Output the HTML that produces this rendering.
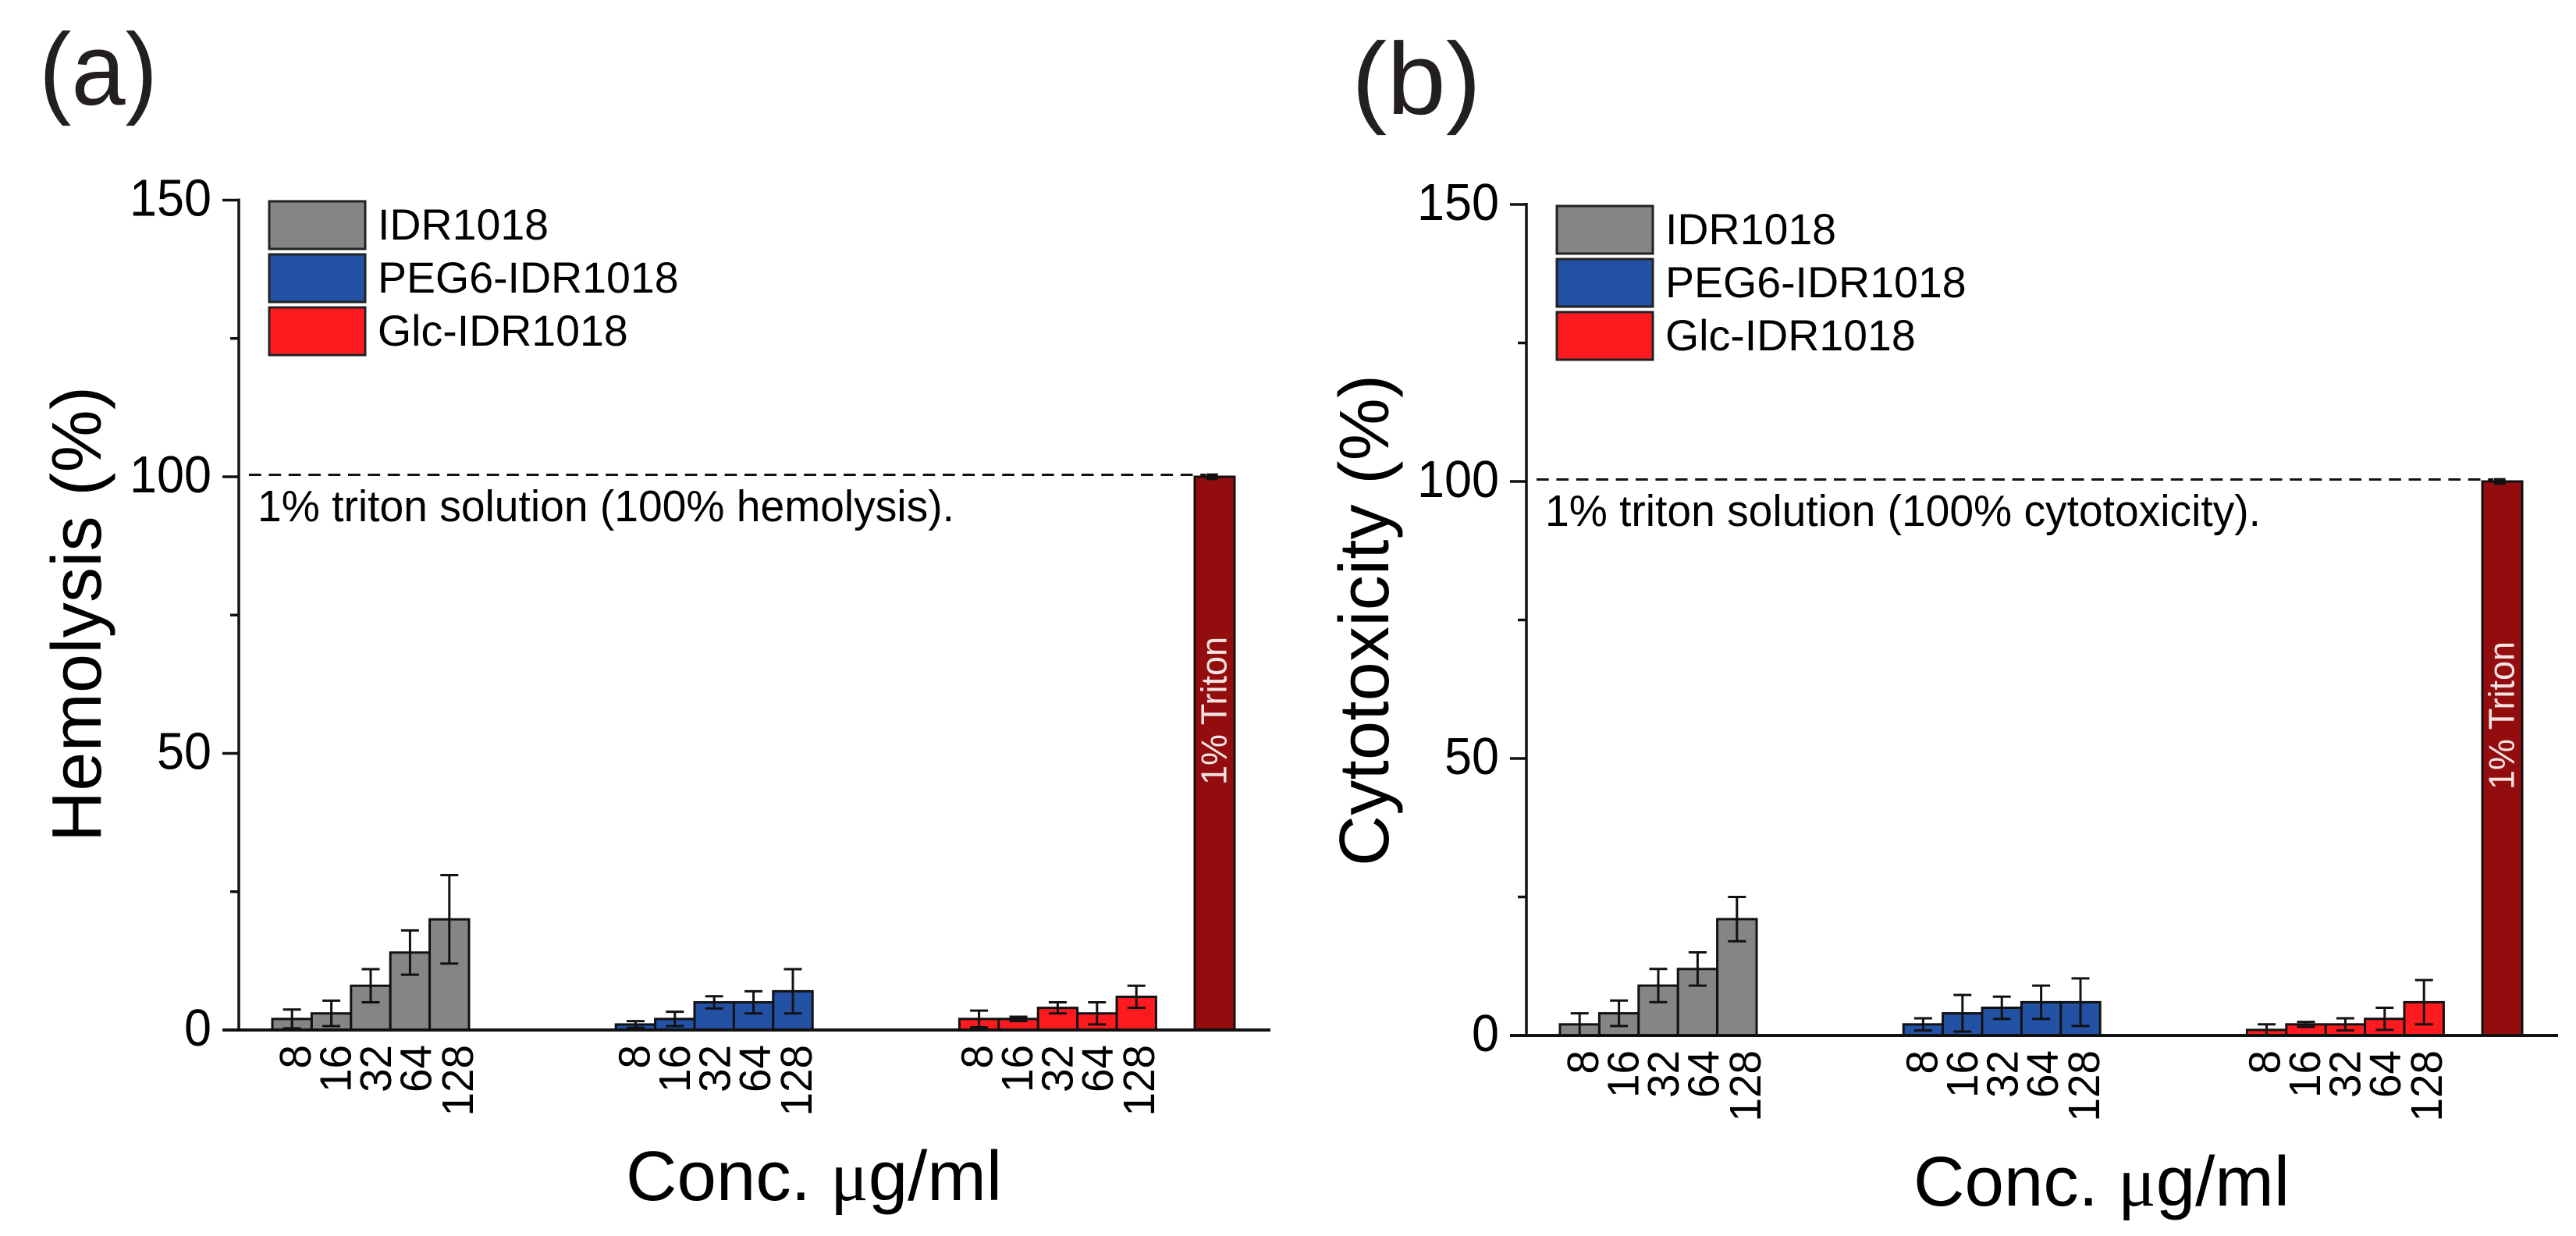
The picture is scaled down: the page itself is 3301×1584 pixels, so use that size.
<!DOCTYPE html>
<html lang="en">
<head>
<meta charset="utf-8">
<title>Hemolysis and cytotoxicity charts</title>
<style>
html,body{margin:0;padding:0;background:#fff;}
svg{display:block;font-family:"Liberation Sans",sans-serif;}
</style>
</head>
<body>
<svg id="figure" xmlns="http://www.w3.org/2000/svg" width="3301" height="1584" viewBox="0 0 3301 1584">
<rect x="0" y="0" width="3301" height="1584" fill="#ffffff"/>
</svg>
<script>
// ---- chart data ----
const concentrations = ['8', '16', '32', '64', '128'];
const seriesNames = ['IDR1018', 'PEG6-IDR1018', 'Glc-IDR1018'];
const majorTicks = [0, 50, 100, 150];
const minorTicks = [25, 75, 125];

const hemolysisIdr = [2, 3, 8, 14, 20];
const hemolysisIdrErr = [1.7, 2.3, 3, 4, 8];
const hemolysisPeg = [1, 2, 5, 5, 7];
const hemolysisPegErr = [0.6, 1.3, 1.1, 2, 4];
const hemolysisGlc = [2, 2, 4, 3, 6];
const hemolysisGlcErr = [1.5, 0.4, 1, 2, 2];
const hemolysisTriton = [100];
const hemolysisTritonErr = [0.4];

const cytotoxIdr = [2, 4, 9, 12, 21];
const cytotoxIdrErr = [2, 2.3, 3, 3, 4];
const cytotoxPeg = [2, 4, 5, 6, 6];
const cytotoxPegErr = [1.1, 3.3, 2, 3, 4.3];
const cytotoxGlc = [1, 2, 2, 3, 6];
const cytotoxGlcErr = [1, 0.45, 1.1, 2, 4];
const cytotoxTriton = [100];
const cytotoxTritonErr = [0.4];

// ---- styling ----
const seriesColors = ['#858585', '#2352a5', '#ff1a20'];
const tritonColor = '#930c0e';
const inkColor = '#111111';
const barWidth = 50.4;
const groupStep = 440.2;

const svgNS = 'http://www.w3.org/2000/svg';
const root = document.getElementById('figure');

function make(tag, attrs, parent) {
  const node = document.createElementNS(svgNS, tag);
  for (const key in attrs) node.setAttribute(key, attrs[key]);
  parent.appendChild(node);
  return node;
}

function drawPanel(p) {
  const g = make('g', {}, root);
  
  

  const X = function (x) { return x + p.dx; };
  const yScale = function (v) { return p.y0 - v * (p.y0 - p.y150) / 150; };
  const groupLeft = function (s) { return X(349) + s * groupStep; };
  const tritonLeft = X(1531);

  // panel letter
  const letter = make('text', {x: p.letterX, y: p.letterY, 'font-size': 131, fill: '#231f20', textLength: p.letterW, lengthAdjust: 'spacingAndGlyphs'}, g);
  letter.textContent = p.letter;
  
  

  // y axis
  const yAxis = make('line', {x1: X(306), x2: X(306), y1: yScale(150) - 2, y2: yScale(0), stroke: inkColor, 'stroke-width': 3.5}, g);
  
  

  majorTicks.forEach(function (v) {
    const t = make('line', {x1: X(285), x2: X(306), y1: yScale(v), y2: yScale(v), stroke: inkColor, 'stroke-width': 3.5}, g);
    
    
    const l = make('text', {x: X(271), y: yScale(v) + 20, 'font-size': 67, 'text-anchor': 'end', fill: '#000', textLength: String(v).length * 35, lengthAdjust: 'spacingAndGlyphs'}, g);
    l.textContent = String(v);
    
    
  });
  minorTicks.forEach(function (v) {
    const t = make('line', {x1: X(295), x2: X(306), y1: yScale(v), y2: yScale(v), stroke: inkColor, 'stroke-width': 3.5}, g);
    
    
  });

  // y title
  const yTitle = make('text', {transform: 'translate(' + X(129) + ',' + p.yTitleBottom + ') rotate(-90)', 'font-size': 90, fill: '#000', textLength: p.yTitleLen, lengthAdjust: 'spacing'}, g);
  yTitle.textContent = p.yTitle;
  
  

  // x title
  const xTitle = make('text', {x: X(802), y: p.y0 + 218, 'font-size': 90, fill: '#000', textLength: 482, lengthAdjust: 'spacingAndGlyphs'}, g);
  const part1 = make('tspan', {}, xTitle);
  part1.textContent = 'Conc. ';
  const part2 = make('tspan', {'font-family': '"Liberation Serif",serif'}, xTitle);
  part2.textContent = 'μ';
  const part3 = make('tspan', {}, xTitle);
  part3.textContent = 'g/ml';
  
  

  // legend
  seriesNames.forEach(function (name, s) {
    const top = p.legendTop + s * 68;
    const sw = make('rect', {x: X(345), y: top, width: 123, height: 61, fill: seriesColors[s], stroke: '#222', 'stroke-width': 3}, g);
    
    
    const tx = make('text', {x: X(484), y: top + 49, 'font-size': 55.5, fill: '#000'}, g);
    tx.textContent = name;
    
    
  });

  // bars
  p.values.forEach(function (vals, s) {
    vals.forEach(function (v, i) {
      const bx = groupLeft(s) + i * barWidth;
      const b = make('rect', {x: bx, y: yScale(v), width: barWidth, height: yScale(0) - yScale(v), fill: seriesColors[s], stroke: inkColor, 'stroke-width': 3}, g);
      
      
    });
  });
  p.triton.forEach(function (v) {
    const b = make('rect', {x: tritonLeft, y: yScale(v), width: barWidth + 0.6, height: yScale(0) - yScale(v), fill: tritonColor, stroke: inkColor, 'stroke-width': 3}, g);
    
    
  });

  // error bars
  function errorBar(cx, v, e, capHalf) {
    const hi = yScale(v + e);
    const lo = yScale(Math.max(v - e, 0));
    const stem = make('line', {x1: cx, x2: cx, y1: hi, y2: lo, stroke: inkColor, 'stroke-width': 3}, g);
    
    
    [hi, lo].forEach(function (yy) {
      const cap = make('line', {x1: cx - capHalf, x2: cx + capHalf, y1: yy, y2: yy, stroke: inkColor, 'stroke-width': 3}, g);
      
      
    });
  }
  p.values.forEach(function (vals, s) {
    vals.forEach(function (v, i) {
      errorBar(groupLeft(s) + (i + 0.5) * barWidth, v, p.errors[s][i], 11.5);
    });
  });
  p.triton.forEach(function (v, i) {
    errorBar(tritonLeft + barWidth / 2 - 3, v, p.tritonErr[i], 7.5);
  });

  // x axis (over bars)
  const xAxis = make('line', {x1: X(285), x2: X(1628), y1: yScale(0), y2: yScale(0), stroke: inkColor, 'stroke-width': 4}, g);
  
  

  // rotated x tick labels
  const labelOffsets = [24, 18, 17];
  seriesNames.forEach(function (name, s) {
    concentrations.forEach(function (c, i) {
      const cx = groupLeft(s) + (i + 0.5) * barWidth;
      const bx = cx + labelOffsets[s] + i * 1.1 + (i === 4 ? 1.6 : 0);
      const t = make('text', {transform: 'translate(' + bx + ',' + (yScale(0) + 19) + ') rotate(-90)', 'font-size': 57, 'text-anchor': 'end', fill: '#000', textLength: c.length * 30.5, lengthAdjust: 'spacingAndGlyphs'}, g);
      t.textContent = c;
      
      
    });
  });

  // reference line & note
  const ref = make('line', {x1: X(319), x2: X(1545), y1: yScale(100) - 2.5, y2: yScale(100) - 2.5, stroke: inkColor, 'stroke-width': 3, 'stroke-dasharray': '15.7 9.7'}, g);
  
  

  const note = make('text', {x: X(330), y: yScale(100) + 57, 'font-size': 57, fill: '#000', textLength: p.noteW, lengthAdjust: 'spacingAndGlyphs'}, g);
  note.textContent = p.note;
  
  

  const tl = make('text', {transform: 'translate(' + X(1571.7) + ',' + p.tritonLabelBottom + ') rotate(-90)', 'font-size': 46, fill: '#f3e4e2', textLength: 190, lengthAdjust: 'spacingAndGlyphs'}, g);
  tl.textContent = '1% Triton';
  
  
}

drawPanel({
  id: 'hemolysis', dx: 0, y0: 1320, y150: 256.5,
  letter: '(a)', letterX: 50, letterY: 134, letterW: 152,
  yTitle: 'Hemolysis (%)', yTitleBottom: 1079, yTitleLen: 584,
  legendTop: 258, noteW: 893,
  note: '1% triton solution (100% hemolysis).', tritonLabelBottom: 1006,
  values: [hemolysisIdr, hemolysisPeg, hemolysisGlc],
  errors: [hemolysisIdrErr, hemolysisPegErr, hemolysisGlcErr],
  triton: hemolysisTriton, tritonErr: hemolysisTritonErr
});

drawPanel({
  id: 'cytotoxicity', dx: 1650, y0: 1327, y150: 262,
  letter: '(b)', letterX: 1732, letterY: 146, letterW: 166,
  yTitle: 'Cytotoxicity (%)', yTitleBottom: 1110, yTitleLen: 630,
  legendTop: 264, noteW: 917,
  note: '1% triton solution (100% cytotoxicity).', tritonLabelBottom: 1012,
  values: [cytotoxIdr, cytotoxPeg, cytotoxGlc],
  errors: [cytotoxIdrErr, cytotoxPegErr, cytotoxGlcErr],
  triton: cytotoxTriton, tritonErr: cytotoxTritonErr
});
</script>
</body>
</html>
